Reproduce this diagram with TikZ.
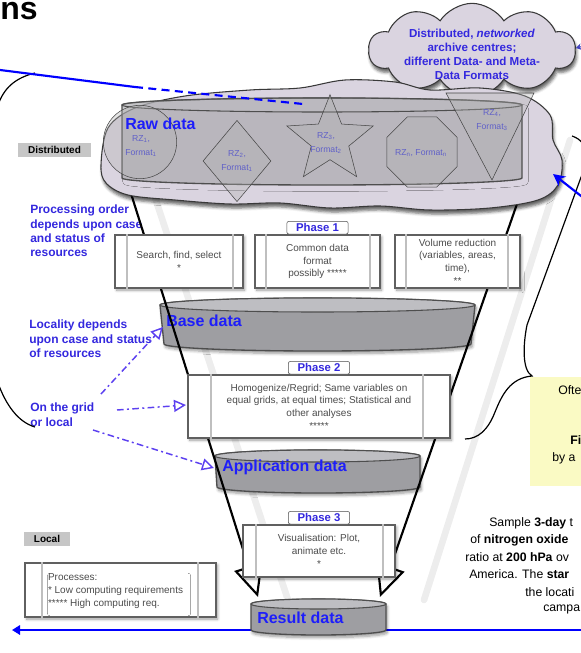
\documentclass[tikz,border=0pt]{standalone}
\usepackage{fontspec}
\setmainfont{Liberation Sans}
\usepackage{xcolor}
\usepackage{tikz}
\usetikzlibrary{arrows.meta}
\usetikzlibrary{positioning}
\usetikzlibrary{shapes}
\usetikzlibrary{shadows.blur}

\definecolor{cloudgray}{RGB}{218,212,224}
\definecolor{notesblue}{RGB}{52,40,222}
\definecolor{storeblue}{RGB}{30,30,250}
\definecolor{flowblue}{RGB}{0,0,255}
\definecolor{gridviolet}{RGB}{92,64,240}
\definecolor{taggray}{RGB}{198,198,198}
\definecolor{noteyellow}{RGB}{250,250,196}
\definecolor{storegray}{RGB}{158,158,162}
\definecolor{storetop}{RGB}{190,190,194}
\definecolor{rzblue}{RGB}{96,96,200}

\tikzset{
  procbox/.style={draw={rgb,255:red,96;green,96;blue,96}, line width=1pt, fill=white, inner sep=1pt,
    blur shadow={shadow xshift=1.2pt, shadow yshift=-1.5pt, shadow blur steps=6},
    font=\fontsize{7.5}{9.5}\selectfont, text=gray!60!black, align=center},
  procbar/.style={draw=gray!50, line width=1.6pt},
  phasetag/.style={draw=gray!60!black, fill=white, rounded corners=1.5pt, inner sep=0.5pt,
    minimum width=46pt, minimum height=9.5pt, font=\fontsize{8.5}{9}\selectfont\bfseries, text=notesblue},
  sidenote/.style={font=\fontsize{9}{10.7}\selectfont\bfseries, text=notesblue, align=left, inner sep=0pt},
  levtag/.style={fill=taggray, font=\fontsize{7.5}{8}\selectfont\bfseries, inner sep=1pt, minimum height=10.5pt},
  datastore/.style={draw={rgb,255:red,78;green,78;blue,78}, line width=1pt, fill=storegray,
    blur shadow={shadow xshift=1pt, shadow yshift=-2pt, shadow blur steps=6}},
  storelid/.style={draw={rgb,255:red,78;green,78;blue,78}, line width=0.8pt, fill=storetop},
  storelabel/.style={font=\fontsize{12}{13}\selectfont\bfseries, text=storeblue, inner sep=0pt, anchor=west},
  gridarrow/.style={draw=gridviolet, line width=1.1pt, dash pattern=on 5pt off 2.5pt on 1.5pt off 2.5pt,
    -{Triangle[open,length=9pt,width=9pt]}},
  flowline/.style={draw=flowblue, line width=1.6pt},
  funnelline/.style={draw=black, line width=1.6pt, -{Triangle[open,length=24pt,width=22pt]}},
  shadeline/.style={draw=gray!14, line width=5pt, line cap=round},
  rzshape/.style={draw=gray!55!black, fill=gray!60, fill opacity=0.35, text opacity=1, inner sep=0pt},
  rztext/.style={font=\fontsize{6.5}{10.5}\selectfont, text=rzblue, align=center, inner sep=0pt},
  cloudfill/.style={draw=gray!45!black, line width=0.8pt, fill=cloudgray,
    blur shadow={shadow xshift=1pt, shadow yshift=-3pt, shadow opacity=60}},
  captext/.style={font=\fontsize{9.2}{11}\selectfont, inner sep=0pt, anchor=base west},
}

\begin{document}
\begin{tikzpicture}[x=0.75pt,y=0.75pt,yscale=-1,xscale=1]
\useasboundingbox (0,0) rectangle (581,653);
\clip (0,0) rectangle (581,653);

%Shadow of the funnel
\draw [shadeline] (136,140) -- (288,600) ;
\draw [shadeline] (570,140) -- (424,600) ;

% Text Node
\node [sidenote, anchor=north west] (ordertxt) at (30,205) {Processing order\\depends upon case\\and status of\\resources};
% Text Node
\node [sidenote, anchor=north west] (localtxt) at (29,320) {Locality depends\\upon case and status\\of resources};
% Text Node
\node [sidenote, anchor=north west] (gridtxt) at (30,403) {On the grid\\or local};

%Data store: Base data
\draw [datastore] (160,305) -- (164,344) arc [start angle=180, end angle=0, x radius=153.5, y radius=7] -- (475,305) arc [start angle=0, end angle=-180, x radius=157.5, y radius=7] -- cycle ;
\draw [storelid] (317.5,305) ellipse [x radius=157.5, y radius=7] ;
\node [storelabel] (base) at (166,321) {Base data};

%Data store: Application data
\draw [datastore] (215,456) -- (217,487) arc [start angle=180, end angle=0, x radius=101.5, y radius=6] -- (420,456) arc [start angle=0, end angle=-180, x radius=102.5, y radius=6] -- cycle ;
\draw [storelid] (317.5,456) ellipse [x radius=102.5, y radius=6] ;
\node [storelabel] (appl) at (222,467) {Application data};

%Flow back to the user
\coordinate (flowR) at (585,630) ;
\coordinate (flowL) at (12,630) ;
\draw [flowline, -{Triangle[length=6pt,width=7pt]}] (flowR) -- (flowL) ;

%Data store: Result data
\draw [datastore] (251,604) -- (251,630) arc [start angle=180, end angle=0, x radius=67.5, y radius=5] -- (386,604) arc [start angle=0, end angle=-180, x radius=67.5, y radius=5] -- cycle ;
\draw [storelid] (318.5,604) ellipse [x radius=67.5, y radius=5] ;
\node [storelabel] (result) at (257,618) {Result data};

%Funnel
\coordinate (ftl) at (111,130) ;
\coordinate (fbl) at (258,597) ;
\coordinate (ftr) at (541,135) ;
\coordinate (fbr) at (380,597) ;
\draw [funnelline] (ftl) -- (fbl) ;
\draw [funnelline] (ftr) -- (fbr) ;

%Clouds
\node [cloud, cloud ignores aspect, cloudfill, cloud puffs=10, cloud puff arc=115, minimum width=155pt, minimum height=70pt] (archcloud) at (472,50) {};
\node [font=\fontsize{8.7}{10.5}\selectfont\bfseries, text=notesblue, align=center, inner sep=0pt] (archtxt) at (472,54) {Distributed, \textit{networked}\\archive centres;\\different Data- and Meta-\\Data Formats};
\draw [cloudfill] plot [smooth cycle, tension=0.55] coordinates {(101,165) (108,128) (135,108) (185,96) (250,90) (300,88) (345,80) (395,82) (430,90) (480,88) (525,96) (550,115) (553,140) (562,160) (558,185) (538,200) (490,208) (430,210) (380,206) (330,208) (280,203) (230,204) (175,200) (128,195) (106,183)} ;

%Data store: Raw data
\draw [datastore, fill opacity=0.55, blur shadow={shadow opacity=0}] (122,105) -- (122,178) arc [start angle=180, end angle=0, x radius=200, y radius=7] -- (522,105) arc [start angle=0, end angle=-180, x radius=200, y radius=7] -- cycle ;
\draw [storelid, fill opacity=0.45] (322,105) ellipse [x radius=200, y radius=7] ;
\node [rzshape, circle, minimum size=55pt] (rz1) at (140,142) {};
\node [rzshape, diamond, minimum width=51pt, minimum height=61pt] (rz2) at (237,161) {};
\node [rzshape, star, star points=5, star point ratio=2.3, minimum size=68pt] (rz3) at (330,140) {};
\node [rzshape, regular polygon, regular polygon sides=8, minimum size=57pt] (rzn) at (422,152) {};
\draw [rzshape] (446,93) -- (534,93) -- (492,180) -- cycle ;
\node [rztext] (rz1t) at (141,146) {RZ\textsubscript{1},\\Format\textsubscript{1}};
\node [rztext] (rz2t) at (237,161) {RZ\textsubscript{2},\\Format\textsubscript{1}};
\node [rztext] (rz3t) at (326,143) {RZ\textsubscript{3},\\Format\textsubscript{2}};
\node [rztext] (rznt) at (421,153) {RZ\textsubscript{n}, Format\textsubscript{n}};
\node [rztext] (rz4t) at (492,120) {RZ\textsubscript{4},\\Format\textsubscript{3}};
\node [storelabel] (raw) at (125,124) {Raw data};

%Phase 1
\node [procbox, minimum width=96pt, minimum height=39.75pt] (srch) at (179,261.5) {Search, find, select\\*};
\node [procbox, minimum width=93.75pt, minimum height=39.75pt] (fmt) at (317.5,261.5) {Common data\\format\\possibly *****};
\node [procbox, minimum width=93.75pt, minimum height=39.75pt] (vol) at (457.5,261.5) {Volume reduction\\(variables, areas,\\time),\\**};
\node [phasetag, above=0pt of fmt] (ph1) {Phase 1};

%Phase 2
\node [procbox, minimum width=196.5pt, minimum height=47.25pt] (homog) at (319,406.5) {Homogenize/Regrid; Same variables on\\equal grids, at equal times; Statistical and\\other analyses\\*****};
\node [phasetag, above=0pt of homog] (ph2) {Phase 2};

%Phase 3
\node [procbox, minimum width=114pt, minimum height=39pt] (vis) at (319,551) {Visualisation: Plot,\\animate etc.\\*};
\node [phasetag, above=0pt of vis] (ph3) {Phase 3};

%Local processes
\node [procbox, minimum width=143.25pt, minimum height=40.5pt] (procs) at (120.5,590) {};
\node [procbox, draw=none, fill=none, blur shadow={shadow opacity=0}, align=left, anchor=west] (procstxt) at (46,591) {Processes:\\* Low computing requirements\\***** High computing req.};

%Side bars of the process boxes
\draw [procbar] ([xshift=9.75pt]srch.north west) -- ([xshift=9.75pt]srch.south west) ;
\draw [procbar] ([xshift=-8.25pt]srch.north east) -- ([xshift=-8.25pt]srch.south east) ;
\draw [procbar] ([xshift=9pt]fmt.north west) -- ([xshift=9pt]fmt.south west) ;
\draw [procbar] ([xshift=-8.25pt]fmt.north east) -- ([xshift=-8.25pt]fmt.south east) ;
\draw [procbar] ([xshift=9pt]vol.north west) -- ([xshift=9pt]vol.south west) ;
\draw [procbar] ([xshift=-9.75pt]vol.north east) -- ([xshift=-9.75pt]vol.south east) ;
\draw [procbar] ([xshift=18pt]homog.north west) -- ([xshift=18pt]homog.south west) ;
\draw [procbar] ([xshift=-21pt]homog.north east) -- ([xshift=-21pt]homog.south east) ;
\draw [procbar] ([xshift=10.5pt]vis.north west) -- ([xshift=10.5pt]vis.south west) ;
\draw [procbar] ([xshift=-9.75pt]vis.north east) -- ([xshift=-9.75pt]vis.south east) ;
\draw [procbar] ([xshift=13.5pt]procs.north west) -- ([xshift=13.5pt]procs.south west) ;
\draw [procbar] ([xshift=-14.25pt]procs.north east) -- ([xshift=-14.25pt]procs.south east) ;

%Braces
\draw [line width=0.9pt] (35,73) .. controls (15,78) and (4,88) .. (-2,105) -- (-6,240) -- (-2,383) .. controls (6,405) and (18,422) .. (35,427) ;
\draw [line width=0.9pt] (572,136) .. controls (590,142) and (588,160) .. (580,180) -- (527,325) .. controls (523,345) and (522,370) .. (532,376) .. controls (510,378) and (502,395) .. (495,412) .. controls (488,430) and (478,439) .. (465,439) ;

%Yellow note
\fill [noteyellow] (530,377) rectangle (590,486) ;
\node [captext] (note1) at (558,394) {Ofte};
\node [captext, font=\fontsize{9.2}{11}\selectfont\bfseries] (note2) at (570,444) {Fi};
\node [captext] (note3) at (552,461) {by a};

%Caption
\node [captext] (cap1) at (489,526) {Sample \textbf{3-day} t};
\node [captext] (cap2) at (470,543) {of \textbf{nitrogen oxide}};
\node [captext] (cap3) at (465,561) {ratio at \textbf{200 hPa} ov};
\node [captext] (cap4) at (469,578) {America. The \textbf{star}};
\node [captext] (cap5) at (525,596) {the locati};
\node [captext] (cap6) at (543,611) {campa};

%Grid or local arrows
\coordinate (g1) at (101,394) ;
\coordinate (g2) at (117,410) ;
\coordinate (g3) at (93,430) ;
\coordinate (baseL) at (163,327) ;
\coordinate (homogL) at (186,405) ;
\coordinate (applL) at (214,468) ;
\draw [gridarrow] (g1) -- (baseL) ;
\draw [gridarrow] (g2) -- (homogL) ;
\draw [gridarrow] (g3) -- (applL) ;

%Blue flow lines
\coordinate (blueA) at (0,70) ;
\coordinate (blueB) at (135,87) ;
\coordinate (blueC) at (303,104) ;
\draw [flowline] (blueA) -- (blueB) ;
\draw [flowline, dash pattern=on 6pt off 4pt] (blueB) -- (blueC) ;
\coordinate (inR) at (590,203) ;
\coordinate (inTip) at (553,174) ;
\draw [flowline, -{Stealth[length=9pt,width=9pt]}] (inR) -- (inTip) ;
\coordinate (topR) at (588,45) ;
\coordinate (topTip) at (576,48) ;
\draw [draw=gray!50!blue, line width=0.8pt, -{Stealth[length=4pt,width=5pt]}] (topR) -- (topTip) ;

%Level tags
\node [levtag, minimum width=55pt] (distr) at (54.5,150) {Distributed};
\node [levtag, minimum width=34pt] (loc) at (47,538.5) {Local};

% Text Node
\node [anchor=base west, inner sep=0pt, font=\fontsize{24}{26}\selectfont\bfseries] (ttl) at (0,19) {ns};
\end{tikzpicture}
\end{document}
